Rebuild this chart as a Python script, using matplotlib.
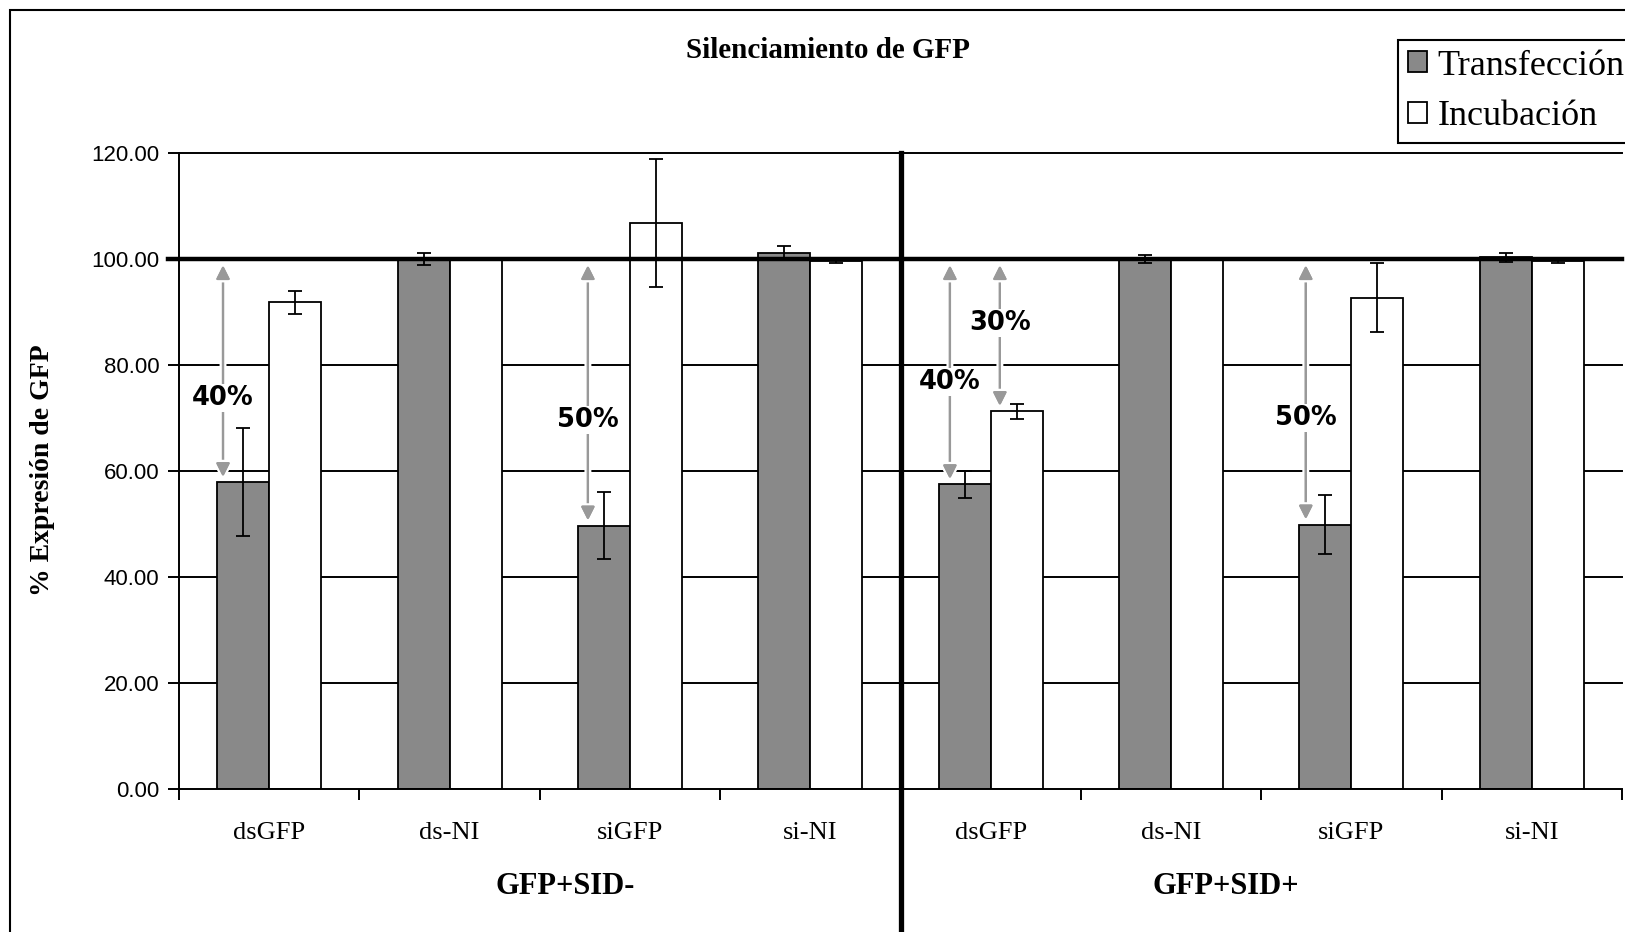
import numpy as np
import matplotlib
matplotlib.use('Agg')
import matplotlib.pyplot as plt
import matplotlib.patheffects as pe
from matplotlib.patches import Patch, Rectangle

# data
categories = ['dsGFP', 'ds-NI', 'siGFP', 'si-NI', 'dsGFP', 'ds-NI', 'siGFP', 'si-NI']
groups = ['GFP+SID-', 'GFP+SID+']
transfeccion = [57.9, 100.0, 49.7, 101.2, 57.5, 100.0, 49.9, 100.3]
transfeccion_err = [10.2, 1.2, 6.3, 1.3, 2.5, 0.8, 5.5, 0.8]
incubacion = [91.8, 100.0, 106.8, 99.6, 71.3, 100.0, 92.7, 99.6]
incubacion_err = [2.2, 0.0, 12.1, 0.3, 1.4, 0.0, 6.5, 0.3]
yticks = [0, 20, 40, 60, 80, 100, 120]

# silencing annotations: label, category index, series the arrow points to
silencing = [('40%', 0, 'T'), ('50%', 2, 'T'), ('40%', 4, 'T'), ('30%', 4, 'I'), ('50%', 6, 'T')]
arrow_dx = [-0.256, -0.233, -0.226, 0.051, -0.253]
label_y = [73.8, 69.6, 76.8, 87.9, 70.0]

W, H = 1625, 932
serif = 'Liberation Serif'
gray = '#898989'

fig = plt.figure(figsize=(W / 100, H / 100), dpi=100)
ax = fig.add_axes([179 / W, 1 - 789 / H, 1443 / W, 636 / H])

x = np.arange(len(categories))
w = 0.288
ax.bar(x - w / 2, transfeccion, w, color=gray, edgecolor='black', linewidth=1.3, zorder=2)
ax.bar(x + w / 2, incubacion, w, color='white', edgecolor='black', linewidth=1.3, zorder=2)
ax.errorbar(x - w / 2, transfeccion, yerr=transfeccion_err, fmt='none', ecolor='black',
            elinewidth=1.3, capsize=5, capthick=1.3, zorder=4)
ax.errorbar(x + w / 2, incubacion, yerr=incubacion_err, fmt='none', ecolor='black',
            elinewidth=1.3, capsize=5, capthick=1.3, zorder=4)

# gridlines and the thick 100% reference line
for yv in yticks[1:]:
    if yv == 100:
        continue
    ax.axhline(yv, color='black', lw=1.4, zorder=1, clip_on=False)
ax.plot([-0.5 - 11 / 180.4, 7.5], [100, 100], color='black', lw=3.2, zorder=3, clip_on=False)

# separator between the two groups
ax.plot([3.5, 3.5], [120, -40], color='black', lw=3.8, zorder=5, clip_on=False)

ax.set_xlim(-0.5, 7.5)
ax.set_ylim(0, 120)
for s in ['top', 'right']:
    ax.spines[s].set_visible(False)
for s in ['left', 'bottom']:
    ax.spines[s].set_linewidth(1.4)

ax.set_yticks(yticks)
ax.set_yticklabels([f'{v:.2f}' for v in yticks], family='Liberation Sans', fontsize=16)
ax.tick_params(axis='y', length=8, width=1.4, pad=6)
ax.set_xticks(np.arange(-0.5, 8, 1))
ax.set_xticklabels([])
ax.tick_params(axis='x', which='major', length=8, width=1.4)
ax.set_xticks(x, categories, minor=True)
ax.tick_params(axis='x', which='minor', length=0, pad=24)
for lab in ax.get_xticklabels(minor=True):
    lab.set_family(serif)
    lab.set_fontsize(19)

# silencing arrows
for (lab, i, s), dx, ly in zip(silencing, arrow_dx, label_y):
    val = transfeccion[i] if s == 'T' else incubacion[i]
    xa = i + dx
    ann = ax.annotate('', xy=(xa, 98.8), xytext=(xa, val + 1),
                      arrowprops=dict(arrowstyle='<|-|>', color='#999999', lw=1.6,
                                      mutation_scale=20, shrinkA=0, shrinkB=0),
                      zorder=3)
    ann.arrow_patch.set_path_effects([pe.withStroke(linewidth=5, foreground='white'), pe.Normal()])
    ax.text(xa, ly, lab, ha='center', va='center', fontsize=18.5, fontweight='bold',
            family='DejaVu Sans', zorder=6,
            bbox=dict(facecolor='white', edgecolor='none', pad=1))

# texts
fig.text(828 / W, 1 - 50 / H, 'Silenciamiento de GFP', ha='center', va='center',
         family=serif, fontweight='bold', fontsize=21)
fig.text(43 / W, 1 - 470 / H, '% Expresión de GFP', ha='center', va='center',
         rotation=90, family=serif, fontweight='bold', fontsize=20)
fig.text(565 / W, 1 - 887 / H, groups[0], ha='center', va='center',
         family=serif, fontweight='bold', fontsize=22)
fig.text(1226 / W, 1 - 887 / H, groups[1], ha='center', va='center',
         family=serif, fontweight='bold', fontsize=22)

handles = [Patch(facecolor=gray, edgecolor='black', linewidth=1.3),
           Patch(facecolor='white', edgecolor='black', linewidth=1.3)]
leg = fig.legend(handles, ['Transfección', 'Incubación'], loc='upper left',
                 bbox_to_anchor=(1398 / W, 1 - 40 / H), bbox_transform=fig.transFigure,
                 prop=dict(family=serif, size=26), frameon=True, fancybox=False,
                 edgecolor='black', framealpha=1, handlelength=0.52, handleheight=0.52,
                 handletextpad=0.3, borderpad=0.27, labelspacing=0.48, borderaxespad=0)
leg.get_frame().set_linewidth(1.5)

# outer chart frame (runs past the right and bottom edges)
fig.add_artist(Rectangle((10 / W, -1), 3, 2 - 10 / H, transform=fig.transFigure,
                         fill=False, edgecolor='black', lw=1.5))

fig.savefig('out.png', dpi=100)
